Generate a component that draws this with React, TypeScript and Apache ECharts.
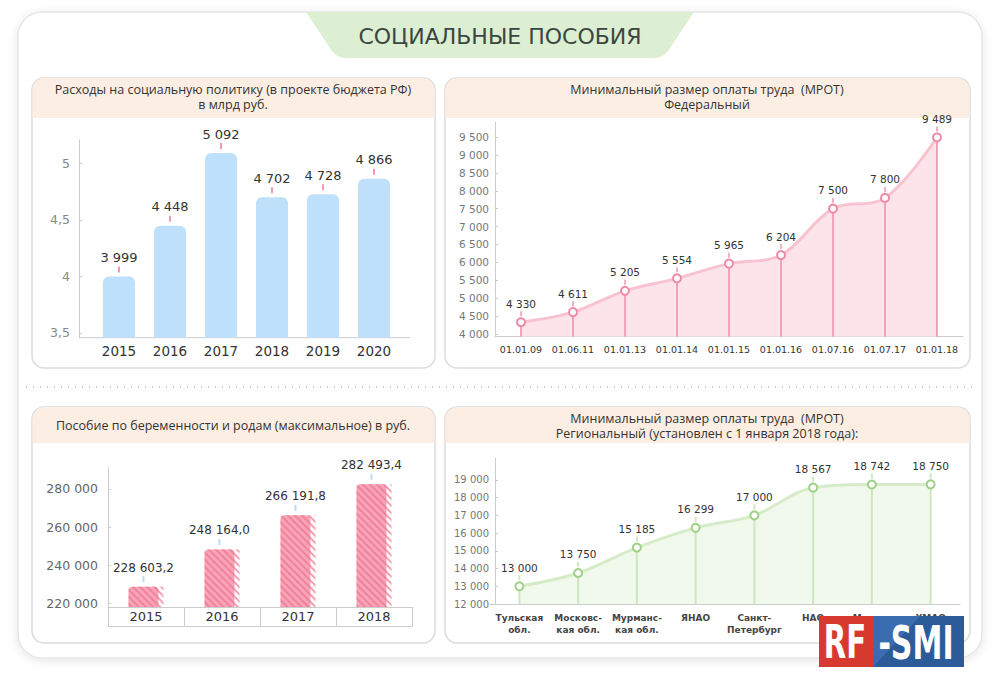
import React, { useEffect, useRef } from "react";
import * as echarts from "echarts";

// ---- data ----
const spendYears = ["2015", "2016", "2017", "2018", "2019", "2020"];
const spendValues = [3999, 4448, 5092, 4702, 4728, 4866]; // млрд руб.
const spendTicks = [3500, 4000, 4500, 5000];

const fedDates = ["01.01.09", "01.06.11", "01.01.13", "01.01.14", "01.01.15", "01.01.16", "01.07.16", "01.07.17", "01.01.18"];
const fedValues = [4330, 4611, 5205, 5554, 5965, 6204, 7500, 7800, 9489];
const fedTicks = [4000, 4500, 5000, 5500, 6000, 6500, 7000, 7500, 8000, 8500, 9000, 9500];

const matYears = ["2015", "2016", "2017", "2018"];
const matValues = [228603.2, 248164.0, 266191.8, 282493.4];
const matTicks = [220000, 240000, 260000, 280000];

const regNames = ["Тульская\nобл.", "Московс-\nкая обл.", "Мурманс-\nкая обл.", "ЯНАО", "Санкт-\nПетербург", "НАО", "Москва", "ХМАО"];
const regValues = [13000, 13750, 15185, 16299, 17000, 18567, 18742, 18750];
const regTicks = [12000, 13000, 14000, 15000, 16000, 17000, 18000, 19000];

const FONT = '"DejaVu Sans", sans-serif';
const HFONT = '"Open Sans", sans-serif';

const fmtInt = (v: number) => String(Math.round(v)).replace(/\B(?=(\d{3})+(?!\d))/g, " ");
const fmtDec = (v: number) => {
  const [i, d] = v.toFixed(1).split(".");
  return fmtInt(+i) + "," + d;
};

const tabPath = "M306 12 L694 12 L668 51 Q663 58 655 58 L345 58 Q337 58 332 51 Z";

function panel(x: number, y: number, w: number, h: number, hh: number) {
  return [
    { type: "rect", z: -2, shape: { x, y, width: w, height: h, r: 12 }, style: { fill: "#ffffff", stroke: "#dcdcdc", lineWidth: 1.5 } },
    { type: "rect", z: -1, shape: { x: x + 0.5, y, width: w - 1, height: hh, r: [12, 12, 0, 0] }, style: { fill: "#fdeee3" } },
  ];
}

function headerText(x: number, y: number, text: string) {
  return { type: "text", z: 1, x, y, style: { text, align: "center", verticalAlign: "middle", font: `12.5px ${HFONT}`, fill: "#333333", lineHeight: 15 } };
}

function richLabel(fmt: (v: number) => string, tickColor: string, size: number, vh: number, th: number, dist: number) {
  return {
    show: true,
    position: "top",
    distance: dist,
    formatter: (p: any) => `{v|${fmt(p.value)}}\n{t| }`,
    rich: {
      v: { fontFamily: FONT, fontSize: size, color: "#333333", lineHeight: vh, align: "center" },
      t: { width: 2, height: th - 2, lineHeight: th, backgroundColor: tickColor, align: "center", fontSize: 2 },
    },
  };
}

const hatch = (color: string) => ({
  symbol: "rect", symbolSize: 1, dashArrayX: [1, 0], dashArrayY: [2, 3], rotation: Math.PI / 4, color,
});

export default function App() {
  const ref = useRef<HTMLDivElement>(null);
  useEffect(() => {
    document.body.style.margin = "0";
    echarts.graphic.registerShape("tab", echarts.graphic.extendPath(tabPath, {}) as any);
    const chart = echarts.init(ref.current!, null, { renderer: "svg" });
    const option: any = {
      animation: false,
      backgroundColor: "#ffffff",
      graphic: {
        elements: [
          { type: "rect", z: -5, shape: { x: 18, y: 12, width: 964, height: 646, r: 24 }, style: { fill: "#ffffff", stroke: "#e6e6e6", lineWidth: 1.5, shadowBlur: 10, shadowColor: "rgba(0,0,0,0.10)", shadowOffsetY: 2 } },
          { type: "tab", z: -4, x: 0, y: 0, style: { fill: "#dcefd2" } },
          { type: "text", z: 1, x: 500, y: 36, style: { text: "СОЦИАЛЬНЫЕ ПОСОБИЯ", align: "center", verticalAlign: "middle", font: `22px ${FONT}`, fill: "#3b4641" } },
          ...panel(32, 78, 403, 290, 40),
          ...panel(445, 78, 525, 290, 40),
          ...panel(32, 407, 403, 236, 36),
          ...panel(445, 407, 525, 236, 36),
          headerText(233, 97, "Расходы на социальную политику (в проекте бюджета РФ)\nв млрд руб."),
          headerText(707, 97, "Минимальный размер оплаты труда  (МРОТ)\nФедеральный"),
          headerText(233, 425, "Пособие по беременности и родам (максимальное) в руб."),
          headerText(707, 426, "Минимальный размер оплаты труда  (МРОТ)\nРегиональный (установлен с 1 января 2018 года):"),
          { type: "line", z: -1, shape: { x1: 26, y1: 387, x2: 975, y2: 387 }, style: { stroke: "#c9c9c9", lineWidth: 2, lineDash: [1, 6] } },
          { type: "line", z: 1, shape: { x1: 79, y1: 337.7, x2: 410, y2: 337.7 }, style: { stroke: "#cccccc", lineWidth: 1 } },
          // watermark
          { type: "rect", z: 100, shape: { x: 819, y: 616, width: 54, height: 51 }, style: { fill: "#d8392e" } },
          { type: "rect", z: 100, shape: { x: 873, y: 616, width: 91, height: 51 }, style: { fill: "#2c5b9a" } },
          { type: "polygon", z: 100, shape: { points: [[873, 616], [920, 616], [873, 667]] }, style: { fill: "#3a6db0" } },
          { type: "text", z: 101, x: 845, y: 642, scaleX: 0.62, style: { text: "RF", align: "center", verticalAlign: "middle", font: `bold 47px ${FONT}`, fill: "#ffffff" } },
          { type: "text", z: 101, x: 916, y: 642, scaleX: 0.64, style: { text: "-SMI", align: "center", verticalAlign: "middle", font: `bold 47px ${FONT}`, fill: "#ffffff" } },
        ],
      },
      grid: [
        { left: 93.5, top: 140, width: 306, height: 197.7 },
        { left: 495, top: 122, width: 468, height: 214.7 },
        { left: 108, top: 468, width: 304, height: 139 },
        { left: 490, top: 458, width: 470, height: 146 },
      ],
      xAxis: [
        {
          type: "category", gridIndex: 0, data: spendYears,
          axisLine: { show: false }, axisTick: { show: false },
          axisLabel: { fontFamily: FONT, fontSize: 13.5, color: "#333", margin: 6 },
        },
        {
          type: "category", gridIndex: 1, data: fedDates,
          axisLine: { lineStyle: { color: "#cccccc" } }, axisTick: { show: false },
          axisLabel: { interval: 0, fontFamily: FONT, fontSize: 9.5, color: "#333", margin: 8 },
        },
        {
          type: "category", gridIndex: 2, data: matYears,
          axisLine: { lineStyle: { color: "#cccccc" } },
          axisTick: { show: true, length: 19, lineStyle: { color: "#cccccc" } },
          axisLabel: { fontFamily: FONT, fontSize: 13, color: "#333", margin: 3 },
        },
        {
          type: "category", gridIndex: 2, data: matYears, position: "bottom", offset: 19,
          axisLine: { lineStyle: { color: "#cccccc" } }, axisTick: { show: false }, axisLabel: { show: false },
        },
        {
          type: "category", gridIndex: 3, data: regNames,
          axisLine: { lineStyle: { color: "#cccccc" } }, axisTick: { show: false },
          axisLabel: { interval: 0, fontFamily: FONT, fontSize: 9, fontWeight: "bold", color: "#444", margin: 8, lineHeight: 12 },
        },
      ],
      yAxis: [
        {
          type: "value", gridIndex: 0, min: 3458, max: 5208, offset: 14.5,
          splitLine: { show: false },
          axisLine: { show: true, lineStyle: { color: "#cccccc" } },
          axisTick: { show: true, inside: true, length: 3, customValues: spendTicks, lineStyle: { color: "#cccccc" } },
          axisLabel: { customValues: spendTicks, formatter: (v: number) => String(v / 1000).replace(".", ","), fontFamily: FONT, fontSize: 12.5, color: "#888", margin: 9 },
        },
        {
          type: "value", gridIndex: 1, min: 3925, max: 9920,
          splitLine: { show: false },
          axisLine: { show: true, lineStyle: { color: "#cccccc" } },
          axisTick: { show: true, inside: true, length: 3, customValues: fedTicks, lineStyle: { color: "#cccccc" } },
          axisLabel: { customValues: fedTicks, formatter: (v: number) => fmtInt(v), fontFamily: FONT, fontSize: 10.5, color: "#777", margin: 6 },
        },
        {
          type: "value", gridIndex: 2, min: 217900, max: 291050,
          splitLine: { show: false },
          axisLine: { show: true, lineStyle: { color: "#cccccc" } },
          axisTick: { show: true, inside: true, length: 3, customValues: matTicks, lineStyle: { color: "#cccccc" } },
          axisLabel: { customValues: matTicks, formatter: (v: number) => fmtInt(v), fontFamily: FONT, fontSize: 12.5, color: "#666", margin: 10 },
        },
        {
          type: "value", gridIndex: 3, min: 12000, max: 20240, offset: -5,
          splitLine: { show: false },
          axisLine: { show: true, lineStyle: { color: "#cccccc" } },
          axisTick: { show: true, inside: true, length: 3, customValues: regTicks, lineStyle: { color: "#cccccc" } },
          axisLabel: { customValues: regTicks, formatter: (v: number) => fmtInt(v), fontFamily: FONT, fontSize: 10, color: "#777", margin: 6 },
        },
      ],
      series: [
        {
          type: "bar", xAxisIndex: 0, yAxisIndex: 0, data: spendValues, barWidth: 32,
          itemStyle: { color: "#bfe0fb", borderRadius: [6, 6, 0, 0] },
          label: richLabel(fmtInt, "#f19bb0", 13, 16, 8, 3),
        },
        // federal: area, drop lines, line with points
        {
          type: "line", xAxisIndex: 1, yAxisIndex: 1, data: fedValues, smooth: 0.35, showSymbol: false, z: 2,
          lineStyle: { width: 0 }, areaStyle: { color: "#fde4ea", origin: "start", opacity: 1 },
          silent: true,
        },
        {
          type: "bar", xAxisIndex: 1, yAxisIndex: 1, data: fedValues, barWidth: 2,
          itemStyle: { color: "#f4a3b7" }, z: 3,
        },
        {
          type: "line", xAxisIndex: 1, yAxisIndex: 1, data: fedValues, smooth: 0.35,
          symbol: "circle", symbolSize: 8, z: 4,
          lineStyle: { color: "#f8c3d0", width: 3 },
          itemStyle: { color: "#ffffff", borderColor: "#f08aa5", borderWidth: 2 },
          label: richLabel(fmtInt, "#f5b0c1", 10.5, 13, 7, 0),
        },
        // maternity bars
        {
          type: "bar", xAxisIndex: 2, yAxisIndex: 2, data: matValues, barWidth: 30, barGap: "-83%", z: 3,
          itemStyle: { color: "#f8a3b6", borderRadius: [4, 4, 0, 0], decal: hatch("rgba(232,92,124,0.45)") },
          label: richLabel(fmtDec, "#b9ddf2", 12, 15, 8, 3.5),
        },
        {
          type: "bar", xAxisIndex: 2, yAxisIndex: 2, data: matValues, barWidth: 30, barGap: "-83%", z: 2,
          itemStyle: { color: "rgba(255,255,255,0)", decal: hatch("#f3a0b4") },
        },
        // regional: area, drop lines, line with points
        {
          type: "line", xAxisIndex: 4, yAxisIndex: 3, data: regValues, smooth: 0.35, showSymbol: false, z: 2,
          lineStyle: { width: 0 }, areaStyle: { color: "#f1f8ec", origin: "start", opacity: 1 },
          silent: true,
        },
        {
          type: "bar", xAxisIndex: 4, yAxisIndex: 3, data: regValues, barWidth: 2,
          itemStyle: { color: "#cfe7bf" }, z: 3,
        },
        {
          type: "line", xAxisIndex: 4, yAxisIndex: 3, data: regValues, smooth: 0.35,
          symbol: "circle", symbolSize: 8, z: 4,
          lineStyle: { color: "#d6ecc8", width: 3 },
          itemStyle: { color: "#ffffff", borderColor: "#9fd087", borderWidth: 2 },
          label: richLabel(fmtInt, "#cfe7bf", 10.5, 13, 7, 0),
        },
      ],
    };
    chart.setOption(option);
    return () => chart.dispose();
  }, []);
  return <div ref={ref} style={{ width: 1000, height: 674 }} />;
}
